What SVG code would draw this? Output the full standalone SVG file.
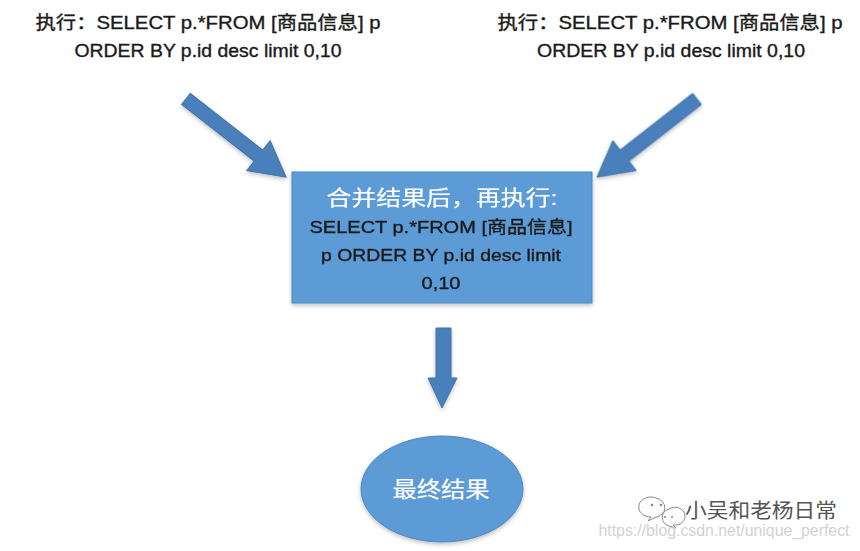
<svg xmlns="http://www.w3.org/2000/svg" width="860" height="551" viewBox="0 0 860 551">
<defs>
<style>
.t{font-family:"Liberation Sans","Noto Sans CJK SC",sans-serif;fill:#1a1a1a;stroke:#1a1a1a;stroke-width:0.35;text-anchor:middle}
.w{fill:#ffffff;stroke:#ffffff;stroke-width:0.2}
.arr{fill:#4a80bb;stroke:#3f72a9;stroke-width:1}
.box{fill:#5b9bd5;stroke:#4d88bf;stroke-width:1}
</style>
<filter id="sh" x="-20%" y="-20%" width="140%" height="140%">
<feGaussianBlur in="SourceAlpha" stdDeviation="2"/>
<feOffset dx="0" dy="2"/>
<feComponentTransfer><feFuncA type="linear" slope="0.25"/></feComponentTransfer>
<feMerge><feMergeNode/><feMergeNode in="SourceGraphic"/></feMerge>
</filter>
<polygon id="arrowShape" points="0,-7 92,-7 92,-19 127,0 92,19 92,7 0,7"/>
</defs>
<rect width="860" height="551" fill="#ffffff"/>

<g id="src-left">
<text class="t" x="208" y="29" font-size="18" textLength="345" lengthAdjust="spacingAndGlyphs">执行：SELECT p.*FROM [商品信息] p</text>
<text class="t" x="208" y="57" font-size="18" textLength="267" lengthAdjust="spacingAndGlyphs">ORDER BY p.id desc limit 0,10</text>
</g>

<g id="src-right">
<text class="t" x="670" y="29" font-size="18" textLength="345" lengthAdjust="spacingAndGlyphs">执行：SELECT p.*FROM [商品信息] p</text>
<text class="t" x="671" y="57" font-size="18" textLength="268" lengthAdjust="spacingAndGlyphs">ORDER BY p.id desc limit 0,10</text>
</g>

<g id="connectors" filter="url(#sh)">
<use href="#arrowShape" class="arr" transform="translate(186,99) rotate(38)"/>
<use href="#arrowShape" class="arr" transform="translate(697,99) rotate(142)"/>
<polygon class="arr" points="436,328 451,328 451,378 457,378 442,408 428,378 436,378"/>
</g>

<g id="merge">
<rect class="box" x="292" y="172" width="300" height="131" filter="url(#sh)"/>
<text class="t w" x="442" y="205" font-size="21" textLength="231" lengthAdjust="spacingAndGlyphs">合并结果后，再执行:</text>
<text class="t" x="441" y="233" font-size="17" textLength="263" lengthAdjust="spacingAndGlyphs">SELECT p.*FROM [商品信息]</text>
<text class="t" x="441" y="261" font-size="17" textLength="240" lengthAdjust="spacingAndGlyphs">p ORDER BY p.id desc limit</text>
<text class="t" x="441" y="289" font-size="17" textLength="39" lengthAdjust="spacingAndGlyphs">0,10</text>
</g>

<g id="result">
<ellipse cx="442" cy="489" rx="81" ry="53" class="box" filter="url(#sh)"/>
<text class="t w" x="441" y="497" font-size="22" textLength="97" lengthAdjust="spacingAndGlyphs">最终结果</text>
</g>

<g id="watermark">
<g fill="#ffffff" stroke="#8a8a8a" stroke-width="1">
<path d="M656,498 a12,10 0 1 0 -5,19 l-3,4 l7,-3.5 a12,10 0 0 0 1,-19.5 z"/>
<path d="M669,509 a10,9 0 1 1 4,16 l3,3 l-7,-2 a10,9 0 0 1 0,-17 z"/>
</g>
<g fill="#8a8a8a">
<circle cx="652" cy="505" r="1.3"/><circle cx="661" cy="505" r="1.3"/>
<circle cx="665" cy="517" r="1.1"/><circle cx="672" cy="517" r="1.1"/>
</g>
<text x="761" y="518" font-size="20" fill="#555555" text-anchor="middle" font-family="'Noto Sans CJK SC',sans-serif" textLength="152" lengthAdjust="spacingAndGlyphs">小吴和老杨日常</text>
<text x="724" y="536" font-size="16" fill="#d2d2d2" text-anchor="middle" font-family="'Liberation Sans',sans-serif" textLength="251" lengthAdjust="spacingAndGlyphs">https://blog.csdn.net/unique_perfect</text>
</g>
</svg>
